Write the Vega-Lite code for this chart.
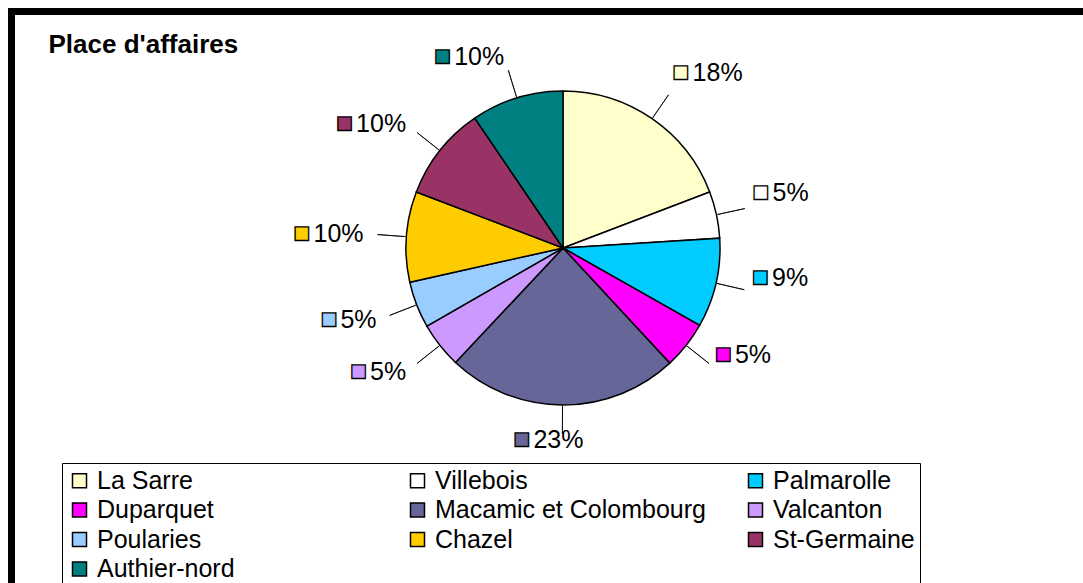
{
  "$schema": "https://vega.github.io/schema/vega-lite/v6.json",
  "width": 1075.5,
  "height": 575.5,
  "autosize": {"type": "none"},
  "padding": {"left": 11.5, "top": 11.5, "right": -4, "bottom": -4},
  "background": "white",
  "view": {"stroke": "black", "strokeWidth": 7, "fill": "white"},
  "title": {"text": "Place d'affaires", "anchor": "start", "frame": "group", "baseline": "alphabetic", "offset": 0, "dx": 37, "dy": 67, "font": "Liberation Sans", "fontSize": 26, "fontWeight": "bold", "color": "black"},
  "data": {"values": [
    {"rank": 1, "place": "La Sarre", "share": 19.2, "label": "18%"},
    {"rank": 2, "place": "Villebois", "share": 4.8, "label": "5%"},
    {"rank": 3, "place": "Palmarolle", "share": 9.2, "label": "9%"},
    {"rank": 4, "place": "Duparquet", "share": 4.9, "label": "5%"},
    {"rank": 5, "place": "Macamic et Colombourg", "share": 23.9, "label": "23%"},
    {"rank": 6, "place": "Valcanton", "share": 4.7, "label": "5%"},
    {"rank": 7, "place": "Poularies", "share": 4.8, "label": "5%"},
    {"rank": 8, "place": "Chazel", "share": 9.3, "label": "10%"},
    {"rank": 9, "place": "St-Germaine", "share": 9.7, "label": "10%"},
    {"rank": 10, "place": "Authier-nord", "share": 9.5, "label": "10%"}
  ]},
  "encoding": {
    "theta": {"field": "share", "type": "quantitative", "stack": true},
    "order": {"field": "rank", "type": "quantitative"},
    "detail": {"field": "place", "type": "nominal"}
  },
  "layer": [
    {
      "mark": {"type": "arc", "radius": 157, "x": 551.5, "y": 236.5, "stroke": "black", "strokeWidth": 1.5},
      "encoding": {
        "color": {
          "field": "place", "type": "nominal",
          "scale": {
            "domain": ["La Sarre", "Villebois", "Palmarolle", "Duparquet", "Macamic et Colombourg", "Valcanton", "Poularies", "Chazel", "St-Germaine", "Authier-nord"],
            "range": ["#FFFFCC", "#FFFFFF", "#00CCFF", "#FF00FF", "#666699", "#CC99FF", "#99CCFF", "#FFCC00", "#993366", "#008080"]
          },
          "legend": {
            "title": null, "orient": "none", "legendX": 50.5, "legendY": 451.5,
            "direction": "horizontal",
            "columns": 3, "gridAlign": "all", "columnPadding": 37, "rowPadding": 3.5,
            "padding": 5, "strokeColor": "black",
            "symbolType": "square", "symbolSize": 196, "symbolStrokeColor": "black", "symbolStrokeWidth": 1.5,
            "labelFont": "Liberation Sans", "labelFontSize": 25, "labelColor": "black", "labelLimit": 500, "labelOffset": 5
          }
        }
      }
    },
    {
      "mark": {"type": "arc", "radius": 186, "radius2": 158, "padAngle": 3, "filled": false, "stroke": "black", "strokeWidth": 0.8, "x": 551.5, "y": 236.5}
    },
    {
      "mark": {"type": "text", "radius": 195, "x": 551.5, "y": 236.5, "align": "left", "baseline": "middle", "dx": -1, "dy": -14, "font": "Liberation Sans", "fontSize": 28, "stroke": "black", "strokeWidth": 1.3},
      "encoding": {
        "color": {"field": "place", "type": "nominal", "legend": null},
        "text": {"condition": {"test": "datum.share_start + datum.share_end < 90", "value": "■"}, "value": ""}
      }
    },
    {
      "mark": {"type": "text", "radius": 195, "x": 551.5, "y": 236.5, "align": "left", "baseline": "middle", "dx": 19, "dy": -14, "font": "Liberation Sans", "fontSize": 25, "fill": "black"},
      "encoding": {
        "text": {"condition": {"test": "datum.share_start + datum.share_end < 90", "field": "label"}, "value": ""}
      }
    },
    {
      "mark": {"type": "text", "radius": 195, "x": 551.5, "y": 236.5, "align": "left", "baseline": "middle", "dx": -49, "dy": -3, "font": "Liberation Sans", "fontSize": 28, "stroke": "black", "strokeWidth": 1.3},
      "encoding": {
        "color": {"field": "place", "type": "nominal", "legend": null},
        "text": {"condition": {"test": "datum.share_start + datum.share_end >= 90 && datum.share_start + datum.share_end < 110", "value": "■"}, "value": ""}
      }
    },
    {
      "mark": {"type": "text", "radius": 195, "x": 551.5, "y": 236.5, "align": "left", "baseline": "middle", "dx": -29, "dy": -3, "font": "Liberation Sans", "fontSize": 25, "fill": "black"},
      "encoding": {
        "text": {"condition": {"test": "datum.share_start + datum.share_end >= 90 && datum.share_start + datum.share_end < 110", "field": "label"}, "value": ""}
      }
    },
    {
      "mark": {"type": "text", "radius": 200, "x": 551.5, "y": 236.5, "align": "right", "baseline": "middle", "dx": -53, "font": "Liberation Sans", "fontSize": 28, "stroke": "black", "strokeWidth": 1.3},
      "encoding": {
        "color": {"field": "place", "type": "nominal", "legend": null},
        "text": {"condition": {"test": "datum.share_start + datum.share_end >= 110 && length(datum.label) == 3", "value": "■"}, "value": ""}
      }
    },
    {
      "mark": {"type": "text", "radius": 200, "x": 551.5, "y": 236.5, "align": "right", "baseline": "middle", "dx": -39, "font": "Liberation Sans", "fontSize": 28, "stroke": "black", "strokeWidth": 1.3},
      "encoding": {
        "color": {"field": "place", "type": "nominal", "legend": null},
        "text": {"condition": {"test": "datum.share_start + datum.share_end >= 110 && length(datum.label) == 2", "value": "■"}, "value": ""}
      }
    },
    {
      "mark": {"type": "text", "radius": 200, "x": 551.5, "y": 236.5, "align": "right", "baseline": "middle", "dx": 0, "font": "Liberation Sans", "fontSize": 25, "fill": "black"},
      "encoding": {
        "text": {"condition": {"test": "datum.share_start + datum.share_end >= 110", "field": "label"}, "value": ""}
      }
    }
  ],
  "config": {
    "view": {"stroke": "black", "strokeWidth": 7},
    "font": "Liberation Sans"
  }
}
